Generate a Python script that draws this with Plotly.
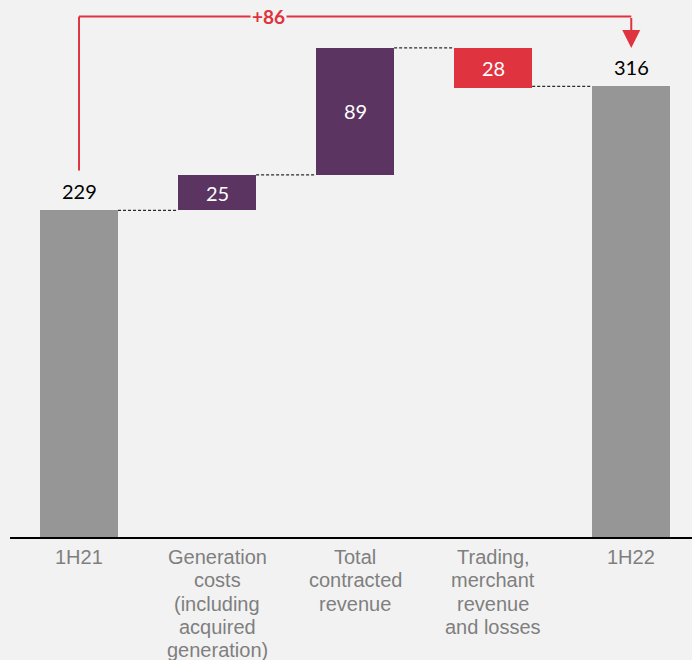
import plotly.graph_objects as go

categories = ["1H21", "Generation<br>costs<br>(including<br>acquired<br>generation)",
              "Total<br>contracted<br>revenue", "Trading,<br>merchant<br>revenue<br>and losses", "1H22"]
values = [229, 25, 89, -28, 316]
kinds = ["total", "delta", "delta", "delta", "total"]
labels = ["229", "25", "89", "28", "316"]
change_label = "+86"

GRAY = "#969696"
PURPLE = "#5b3462"
RED = "#e03340"
BG = "#f2f2f2"

# compute bases
bases, heights, colors, levels = [], [], [], []
running = 0
for v, k in zip(values, kinds):
    if k == "total":
        bases.append(0); heights.append(v); colors.append(GRAY); running = v
    else:
        if v >= 0:
            bases.append(running); heights.append(v); colors.append(PURPLE)
        else:
            bases.append(running + v); heights.append(-v); colors.append(RED)
        running += v
    levels.append(running)

xs = list(range(len(categories)))
BW = 0.565

fig = go.Figure()
fig.add_trace(go.Bar(x=xs, y=heights, base=bases, marker=dict(color=colors, line=dict(width=0)),
                     width=BW, hoverinfo="skip"))

# connectors
for i in range(len(values) - 1):
    lvl = values[-1] if kinds[i + 1] == "total" else levels[i]
    fig.add_shape(type="line", x0=i + BW / 2, x1=i + 1 - BW / 2, y0=lvl, y1=lvl,
                  line=dict(color="#2a2a2a", width=1.2, dash="3px,2px"), layer="below")

# value labels
for i, (lab, k) in enumerate(zip(labels, kinds)):
    if k == "total":
        fig.add_annotation(x=i, y=bases[i] + heights[i], text=lab, showarrow=False, yanchor="bottom", yshift=5,
                           font=dict(family="Lato", size=20, color="#000000"))
    else:
        fig.add_annotation(x=i, y=bases[i] + heights[i] / 2, text=lab, showarrow=False,
                           font=dict(family="Lato", size=20, color="#ffffff"))

# category labels (one annotation per line for tight line spacing)
for i, cat in enumerate(categories):
    for j, line in enumerate(cat.split("<br>")):
        fig.add_annotation(x=i, xref="x", y=0, yref="paper", yanchor="middle", yshift=-20 - 23.3 * j,
                           text=line, showarrow=False,
                           font=dict(family="Arial, Liberation Sans", size=20, color="#7f7f7f"))

# bracket
top_level = max(b + h for b, h in zip(bases, heights))
y_top = top_level + 22
y_start = values[0] + 28
fig.add_shape(type="line", x0=0, x1=0, y0=y_start, y1=y_top, line=dict(color=RED, width=2))
fig.add_shape(type="line", x0=0, x1=4, y0=y_top, y1=y_top, line=dict(color=RED, width=2))
fig.add_annotation(x=4, y=top_level, ax=4, ay=y_top, xref="x", yref="y", axref="x", ayref="y",
                   showarrow=True, arrowhead=2, arrowsize=1.8, arrowwidth=2, arrowcolor=RED, text="")
fig.add_annotation(x=1.37, y=y_top, text="<b>" + change_label + "</b>", showarrow=False, bgcolor=BG,
                   font=dict(family="Lato", size=19, color=RED), borderpad=1)

fig.update_layout(
    width=692, height=660, paper_bgcolor=BG, plot_bgcolor=BG,
    margin=dict(l=10, r=0, t=0, b=123), showlegend=False, bargap=0,
    xaxis=dict(range=[-0.5, 4.44], tickvals=xs, showticklabels=False, showline=True, linecolor="#000000",
               linewidth=2, showgrid=False, zeroline=False, ticks="", fixedrange=True),
    yaxis=dict(range=[0, 376.6], visible=False, showgrid=False, zeroline=False),
)
fig.write_html("out.html")
